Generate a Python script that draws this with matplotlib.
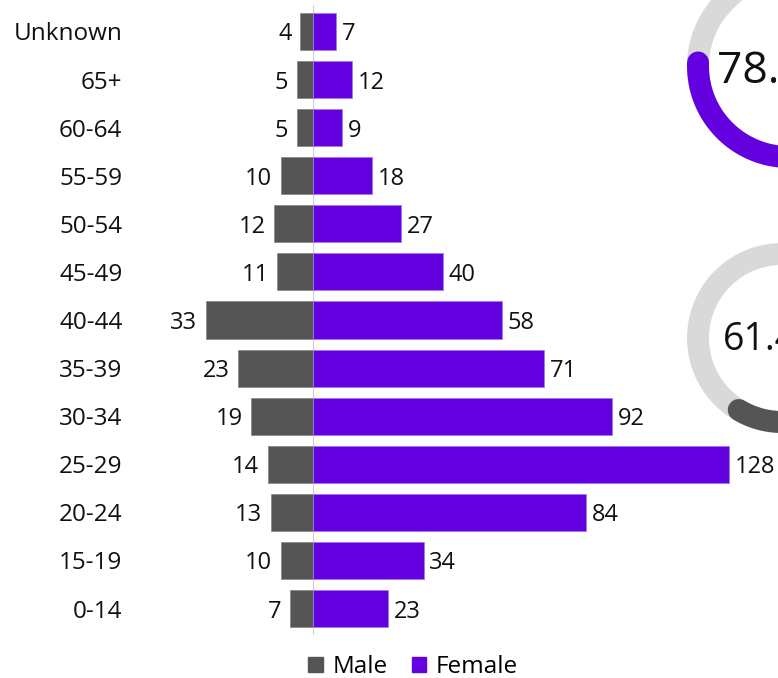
import numpy as np
import matplotlib.pyplot as plt

plt.rcParams['font.family'] = ['Open Sans', 'DejaVu Sans']

ages = ['Unknown', '65+', '60-64', '55-59', '50-54', '45-49', '40-44',
        '35-39', '30-34', '25-29', '20-24', '15-19', '0-14']
male = [4, 5, 5, 10, 12, 11, 33, 23, 19, 14, 13, 10, 7]
female = [7, 12, 9, 18, 27, 40, 58, 71, 92, 128, 84, 34, 23]

donut_values = [78.4, 61.4]
donut_colors = ['#6400E0', '#555555']

grey = '#555555'
purple = '#6400E0'
txt = '#111111'

W, H = 778, 678
fig = plt.figure(figsize=(W / 100, H / 100), dpi=100)

# donuts (partly off the right edge), drawn in pixel coords
axd = fig.add_axes([0, 0, 1, 1], zorder=0)
axd.set_xlim(0, W)
axd.set_ylim(H, 0)
axd.axis('off')
donut_layout = [(789, 66, 91, 32), (782, 338, 84, 27)]
text_shift = [(-10, 6), (-7, 2)]
cap = np.deg2rad(10)  # rounded ends sit inside the arc length
for (cx, cy, r, fs), (dx, dy), val, col in zip(donut_layout, text_shift,
                                                donut_values, donut_colors):
    t = np.linspace(0, 2 * np.pi, 400)
    axd.plot(cx + r * np.sin(t), cy - r * np.cos(t), color='#d9d9d9', lw=15.8)
    t = np.linspace(cap, 2 * np.pi * val / 100 - cap, 400)
    axd.plot(cx + r * np.sin(t), cy - r * np.cos(t), color=col, lw=15.8,
             solid_capstyle='round')
    axd.text(cx + dx, cy + dy, f'{val:.1f}%', ha='center', va='center', fontsize=fs,
             color=txt)

# pyramid
left, right, top, bottom = 135, 778, 5, 635
ax = fig.add_axes([left / W, 1 - bottom / H, (right - left) / W, (bottom - top) / H],
                  zorder=1)
ax.patch.set_alpha(0)
y = np.arange(len(ages))
ax.barh(y, [-m for m in male], height=0.77, color=grey, edgecolor='#8a8a8a', lw=0.6)
ax.barh(y, female, height=0.77, color=purple, edgecolor='#a27af0', lw=0.6)
ax.axvline(0, color='#d0d0d0', lw=0.8, zorder=0)
for i in range(len(ages)):
    ax.text(-male[i] - 2.6, y[i], str(male[i]), ha='right', va='center_baseline',
            fontsize=17, color=txt)
    ax.text(female[i] + 1.8, y[i], str(female[i]), ha='left', va='center_baseline',
            fontsize=17, color=txt)
ax.set_xlim(-(313 - left) / 3.25, (right - 313) / 3.25)
ax.set_ylim(len(ages) - 0.5 + 0.05, -0.55)
ax.set_yticks(y)
ax.set_yticklabels(ages, fontsize=17.5, color=txt, va='center_baseline')
ax.tick_params(axis='y', length=0, pad=9)
ax.set_xticks([])
for s in ax.spines.values():
    s.set_visible(False)

handles = [plt.Rectangle((0, 0), 1, 1, color=grey),
           plt.Rectangle((0, 0), 1, 1, color=purple)]
fig.legend(handles, ['Male', 'Female'], loc='center', bbox_to_anchor=(413 / W, 1 - 667 / H),
           ncol=2, frameon=False, fontsize=17.5, handlelength=0.6, handleheight=0.6,
           handletextpad=0.4, columnspacing=1.0)

fig.savefig('out.png', dpi=100)
